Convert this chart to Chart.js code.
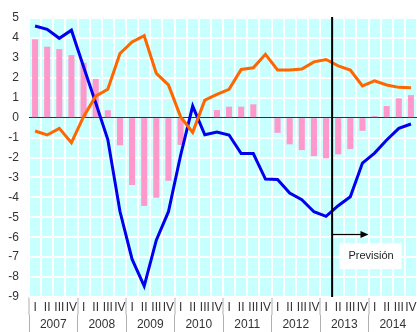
<!DOCTYPE html>
<html>
<head>
<meta charset="utf-8">
<script src="https://cdn.jsdelivr.net/npm/chart.js@4/dist/chart.umd.min.js"></script>
<style>
  html, body { margin: 0; padding: 0; background: #ffffff; }
  #wrap { width: 417px; height: 332px; }
</style>
</head>
<body>
<div id="wrap"><canvas id="chart" width="417" height="332"></canvas></div>
<script>
// Years and quarter names shown on the two-row horizontal axis
const years = ['2007', '2008', '2009', '2010', '2011', '2012', '2013', '2014'];
const quarterNames = ['I', 'II', 'III', 'IV'];

// Pink bars (quarterly values, 2007 Q1 – 2014 Q4)
const barValues = [
  3.93, 3.56, 3.44, 3.14,
  2.75, 1.94, 0.37, -1.39,
  -3.38, -4.43, -4.02, -3.17,
  -1.37, 0, 0, 0.38,
  0.55, 0.55, 0.67, 0,
  -0.76, -1.34, -1.63, -1.93,
  -2.04, -1.84, -1.58, -0.66,
  0.08, 0.58, 0.97, 1.13
];

// Blue line
const blueValues = [
  4.6, 4.43, 3.98, 4.39,
  2.55, 0.75, -1.1, -4.7,
  -7.1, -8.45, -6.15, -4.72,
  -1.9, 0.58, -0.86, -0.72,
  -0.87, -1.8, -1.8, -3.08,
  -3.1, -3.78, -4.12, -4.72,
  -4.95, -4.42, -3.97, -2.28,
  -1.78, -1.12, -0.54, -0.32
];

// Orange line
const orangeValues = [
  -0.67, -0.87, -0.54, -1.26,
  0.05, 1.08, 1.42, 3.22,
  3.8, 4.11, 2.22, 1.64,
  0.05, -0.74, 0.88, 1.17,
  1.42, 2.42, 2.5, 3.18,
  2.39, 2.39, 2.44, 2.8,
  2.92, 2.6, 2.39, 1.59,
  1.85, 1.64, 1.52, 1.5
];

// Value axis range
const yMin = -9;
const yMax = 5;

// Forecast period starts at this quarter index (2013 Q2)
const forecastFrom = 25;
const forecastLabel = 'Previsión';

const quarterLabels = years.flatMap(() => quarterNames);

const FONT = '"Liberation Sans", Arial, sans-serif';
const TEXT = '#333333';

// Light cyan plot background
const backdrop = {
  id: 'backdrop',
  beforeDraw(chart) {
    const { ctx, chartArea: a } = chart;
    ctx.save();
    ctx.fillStyle = '#c8ffff';
    ctx.fillRect(a.left, a.top, a.right - a.left, a.bottom - a.top);
    ctx.restore();
  }
};

// Vertical divider, arrow and label marking the forecast period
const forecast = {
  id: 'forecast',
  afterDatasetsDraw(chart) {
    const { ctx, chartArea: a, scales: { x, y } } = chart;
    const xs = (x.getPixelForValue(forecastFrom - 1) + x.getPixelForValue(forecastFrom)) / 2;
    const xe = (x.getPixelForValue(forecastFrom + 2) + x.getPixelForValue(forecastFrom + 3)) / 2;
    ctx.save();
    // divider
    ctx.strokeStyle = '#000000';
    ctx.lineWidth = 2;
    ctx.beginPath();
    ctx.moveTo(xs, a.top - 1);
    ctx.lineTo(xs, a.bottom);
    ctx.stroke();
    // arrow
    const ay = Math.round(y.getPixelForValue(-5.85)) + 0.5;
    ctx.lineWidth = 1.2;
    ctx.beginPath();
    ctx.moveTo(xs, ay);
    ctx.lineTo(xe - 7, ay);
    ctx.stroke();
    ctx.fillStyle = '#000000';
    ctx.beginPath();
    ctx.moveTo(xe, ay);
    ctx.lineTo(xe - 8, ay - 3.5);
    ctx.lineTo(xe - 8, ay + 3.5);
    ctx.closePath();
    ctx.fill();
    // label box
    const bt = y.getPixelForValue(-6.3);
    const bb = y.getPixelForValue(-7.6);
    const bl = xs + 7.5;
    const br = xe + 33;
    ctx.fillStyle = '#ffffff';
    ctx.fillRect(bl, bt, br - bl, bb - bt);
    ctx.fillStyle = '#222222';
    ctx.font = '11px ' + FONT;
    ctx.textAlign = 'center';
    ctx.textBaseline = 'middle';
    ctx.fillText(forecastLabel, (bl + br) / 2 + 0.5, (bt + bb) / 2);
    ctx.restore();
  }
};

new Chart(document.getElementById('chart'), {
  type: 'bar',
  data: {
    labels: quarterLabels,
    datasets: [
      {
        type: 'line',
        data: orangeValues,
        borderColor: '#ff6600',
        borderWidth: 3,
        pointRadius: 0,
        tension: 0,
        order: 1
      },
      {
        type: 'line',
        data: blueValues,
        borderColor: '#0000ee',
        borderWidth: 3,
        pointRadius: 0,
        tension: 0,
        order: 2
      },
      {
        type: 'bar',
        data: barValues,
        backgroundColor: '#ff99cc',
        barPercentage: 0.5,
        categoryPercentage: 1,
        order: 3
      }
    ]
  },
  options: {
    responsive: false,
    animation: false,
    devicePixelRatio: 1,
    layout: { padding: { top: 18, right: 0, left: 0, bottom: 0 } },
    plugins: {
      legend: { display: false },
      tooltip: { enabled: false }
    },
    scales: {
      x: {
        type: 'category',
        position: 'bottom',
        weight: 0,
        offset: true,
        border: { display: false },
        grid: {
          offset: true,
          color: '#ffffff',
          lineWidth: 2,
          drawTicks: true,
          tickLength: 18,
          tickColor: (c) => (c.index % 4 === 0 ? '#b0b0b0' : 'rgba(0,0,0,0)'),
          tickWidth: 1
        },
        ticks: {
          autoSkip: false,
          maxRotation: 0,
          minRotation: 0,
          padding: -14.2,
          color: TEXT,
          font: { family: FONT, size: 12 }
        },
        afterFit(s) { s.height = 18; }
      },
      x2: {
        type: 'category',
        labels: years,
        position: 'bottom',
        weight: 1,
        offset: true,
        border: { display: false },
        grid: {
          offset: true,
          drawOnChartArea: false,
          drawTicks: true,
          tickLength: 17,
          tickColor: '#b0b0b0',
          tickWidth: 1
        },
        ticks: {
          autoSkip: false,
          maxRotation: 0,
          minRotation: 0,
          padding: -14.2,
          color: TEXT,
          font: { family: FONT, size: 12 }
        },
        afterFit(s) { s.height = 17; }
      },
      y: {
        min: yMin,
        max: yMax,
        border: { display: false },
        grid: {
          color: (c) => (c.tick && c.tick.value === 0 ? '#333333' : '#ffffff'),
          lineWidth: (c) => (c.tick && c.tick.value === 0 ? 1 : 2),
          drawTicks: false
        },
        ticks: {
          stepSize: 1,
          padding: 10,
          color: TEXT,
          font: { family: FONT, size: 12 }
        },
        afterFit(s) { s.width = 29; }
      }
    }
  },
  plugins: [backdrop, forecast]
});
</script>
</body>
</html>
